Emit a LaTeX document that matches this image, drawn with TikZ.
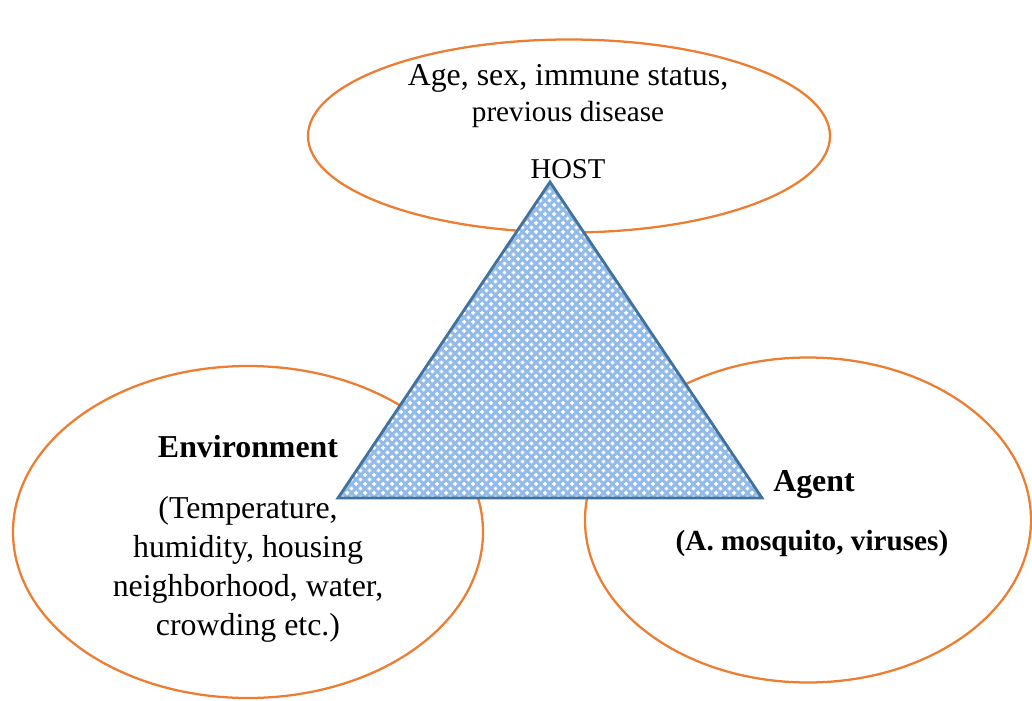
\documentclass[tikz,border=0pt]{standalone}
\usepackage{fontspec}
\setmainfont{Liberation Serif}
\usepackage{tikz}
\usetikzlibrary{shapes.geometric,patterns.meta}

\definecolor{ringorange}{RGB}{237,125,49}
\definecolor{triblue}{RGB}{146,187,233}
\definecolor{triedge}{RGB}{65,113,156}

% white plus marks on a staggered grid, like the fill of the triangle
\tikzdeclarepattern{
  name=plusgrid,
  type=uncolored,
  bottom left={(0pt,0pt)},
  top right={(7pt,7pt)},
  tile size={(7pt,7pt)},
  code={
    \fill (0.2pt,1.1pt) rectangle (3.3pt,2.4pt);
    \fill (1.1pt,0.2pt) rectangle (2.4pt,3.3pt);
    \fill (3.7pt,4.6pt) rectangle (6.8pt,5.9pt);
    \fill (4.6pt,3.7pt) rectangle (5.9pt,6.8pt);
  }
}

\begin{document}
\begin{tikzpicture}[
  x=0.75pt, y=-0.75pt,
  ring/.style={draw=ringorange, line width=1.7pt, ellipse, inner sep=0pt},
  tri/.style={draw=triedge, line width=2.1pt, line join=miter,
              preaction={fill=triblue}, pattern=plusgrid, pattern color=white},
  big/.style={font=\fontsize{23.9}{29.3}\selectfont, align=center, inner sep=0pt},
  mid/.style={font=\fontsize{21.9}{27}\selectfont, align=center, inner sep=0pt},
]
\useasboundingbox (0,0) rectangle (1032,700);

% ---- the three rings ----
\node[ring, minimum width=391.5pt, minimum height=144.75pt] (host)  at (569,136) {};
\node[ring, minimum width=352.5pt, minimum height=249pt]    (env)   at (248,532) {};
\node[ring, minimum width=334.5pt, minimum height=243.75pt] (agent) at (808,520) {};

% ---- the triangle ----
\coordinate (apex) at (550,182);
\coordinate (bl)   at (338,498);
\coordinate (br)   at (762,498);
\draw[tri] (apex) -- (bl) -- (br) -- cycle;

% ---- labels ----
\node[big, font=\fontsize{23.9}{27}\selectfont] (hosttxt) at (568,96)
  {Age, sex, immune status,\\{\fontsize{21.9}{27}\selectfont previous disease}};
\node[mid, font=\fontsize{21.5}{27}\selectfont, anchor=base] (hostlbl) at (568,178) {HOST};

\node[big, anchor=base] (envlbl) at (248,457) {\bfseries Environment};
\node[big] (envtxt) at (248,569)
  {(Temperature,\\humidity, housing\\neighborhood, water,\\crowding etc.)};

\node[big, anchor=base] (agentlbl) at (814,491) {\bfseries Agent};
\node[mid, anchor=base] (agenttxt) at (812,550) {\bfseries (A. mosquito, viruses)};

\end{tikzpicture}
\end{document}
